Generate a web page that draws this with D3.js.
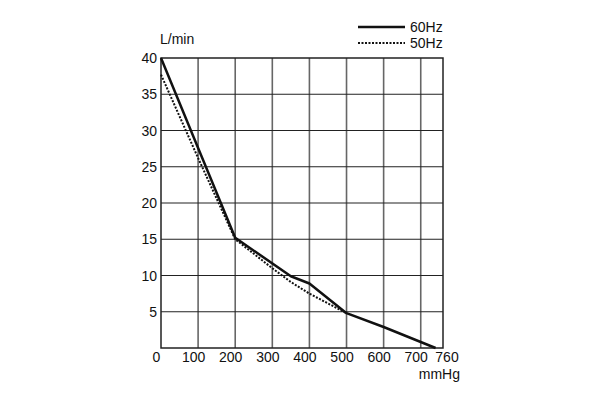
<!DOCTYPE html>
<html><head><meta charset="utf-8">
<script src="https://cdn.jsdelivr.net/npm/d3@7"></script>
<style>body{margin:0;background:#fff}svg{display:block}text{font-family:"Liberation Sans",Arial,sans-serif;fill:#111}</style>
</head><body>
<svg id="c" width="604" height="398"></svg>
<script>
const xTicks = [0,100,200,300,400,500,600,700,760];
const yTicks = [5,10,15,20,25,30,35,40];
const pressure60 = [0,100,200,350,400,500,600,740];
const flow60 = [40,27.6,15.2,9.9,8.9,4.8,2.9,0];
const pressure50 = [0,100,200,300,350,400,500];
const flow50 = [37.7,26.2,15.0,11.0,9.1,7.5,4.8];
const seriesNames = ["60Hz","50Hz"];

const svg = d3.select("#c");
const x = d3.scaleLinear().domain([0,760]).range([161,443]);
const y = d3.scaleLinear().domain([0,40]).range([348,58]);

// vertical grid
svg.append("g").selectAll("line").data(xTicks.filter(d=>d>0&&d<760)).join("line")
  .attr("x1",d=>x(d)).attr("x2",d=>x(d)).attr("y1",y(40)).attr("y2",y(0))
  .attr("stroke","#666").attr("stroke-width",1.6);
// horizontal grid
svg.append("g").selectAll("line").data(yTicks.filter(d=>d<40)).join("line")
  .attr("x1",x(0)).attr("x2",x(760)).attr("y1",d=>y(d)).attr("y2",d=>y(d))
  .attr("stroke","#222").attr("stroke-width",1.2);
// frame
svg.append("rect").attr("x",x(0)).attr("y",y(40)).attr("width",x(760)-x(0)).attr("height",y(0)-y(40))
  .attr("fill","none").attr("stroke","#222").attr("stroke-width",1.5);

// y labels
svg.append("g").selectAll("text").data(yTicks).join("text")
  .attr("x",157).attr("y",d=>y(d)+5).attr("text-anchor","end").attr("font-size",14).text(d=>d);
// x labels
const xOff = d => d===760 ? 4 : -4.5;
svg.append("g").selectAll("text").data(xTicks).join("text")
  .attr("x",d=>x(d)+xOff(d)).attr("y",362).attr("text-anchor","middle").attr("font-size",14).text(d=>d);

svg.append("text").attr("x",160).attr("y",44).attr("font-size",14).text("L/min");
svg.append("text").attr("x",460).attr("y",379).attr("text-anchor","end").attr("font-size",14).text("mmHg");

const line = d3.line().x(d=>x(d[0])).y(d=>y(d[1]));
svg.append("path").datum(pressure50.map((p,i)=>[p,flow50[i]])).attr("d",line)
  .attr("fill","none").attr("stroke","#111").attr("stroke-width",2).attr("stroke-dasharray","2,1.5");
svg.append("path").datum(pressure60.map((p,i)=>[p,flow60[i]])).attr("d",line)
  .attr("fill","none").attr("stroke","#111").attr("stroke-width",2.5).attr("stroke-linejoin","round");

// legend
const leg = svg.append("g");
leg.append("line").attr("x1",358).attr("x2",405).attr("y1",27).attr("y2",27).attr("stroke","#111").attr("stroke-width",2.5);
leg.append("line").attr("x1",358).attr("x2",405).attr("y1",43).attr("y2",43).attr("stroke","#111").attr("stroke-width",2).attr("stroke-dasharray","2,1.5");
leg.append("text").attr("x",410).attr("y",32).attr("font-size",14).text(seriesNames[0]);
leg.append("text").attr("x",410).attr("y",48).attr("font-size",14).text(seriesNames[1]);
</script>
</body></html>
